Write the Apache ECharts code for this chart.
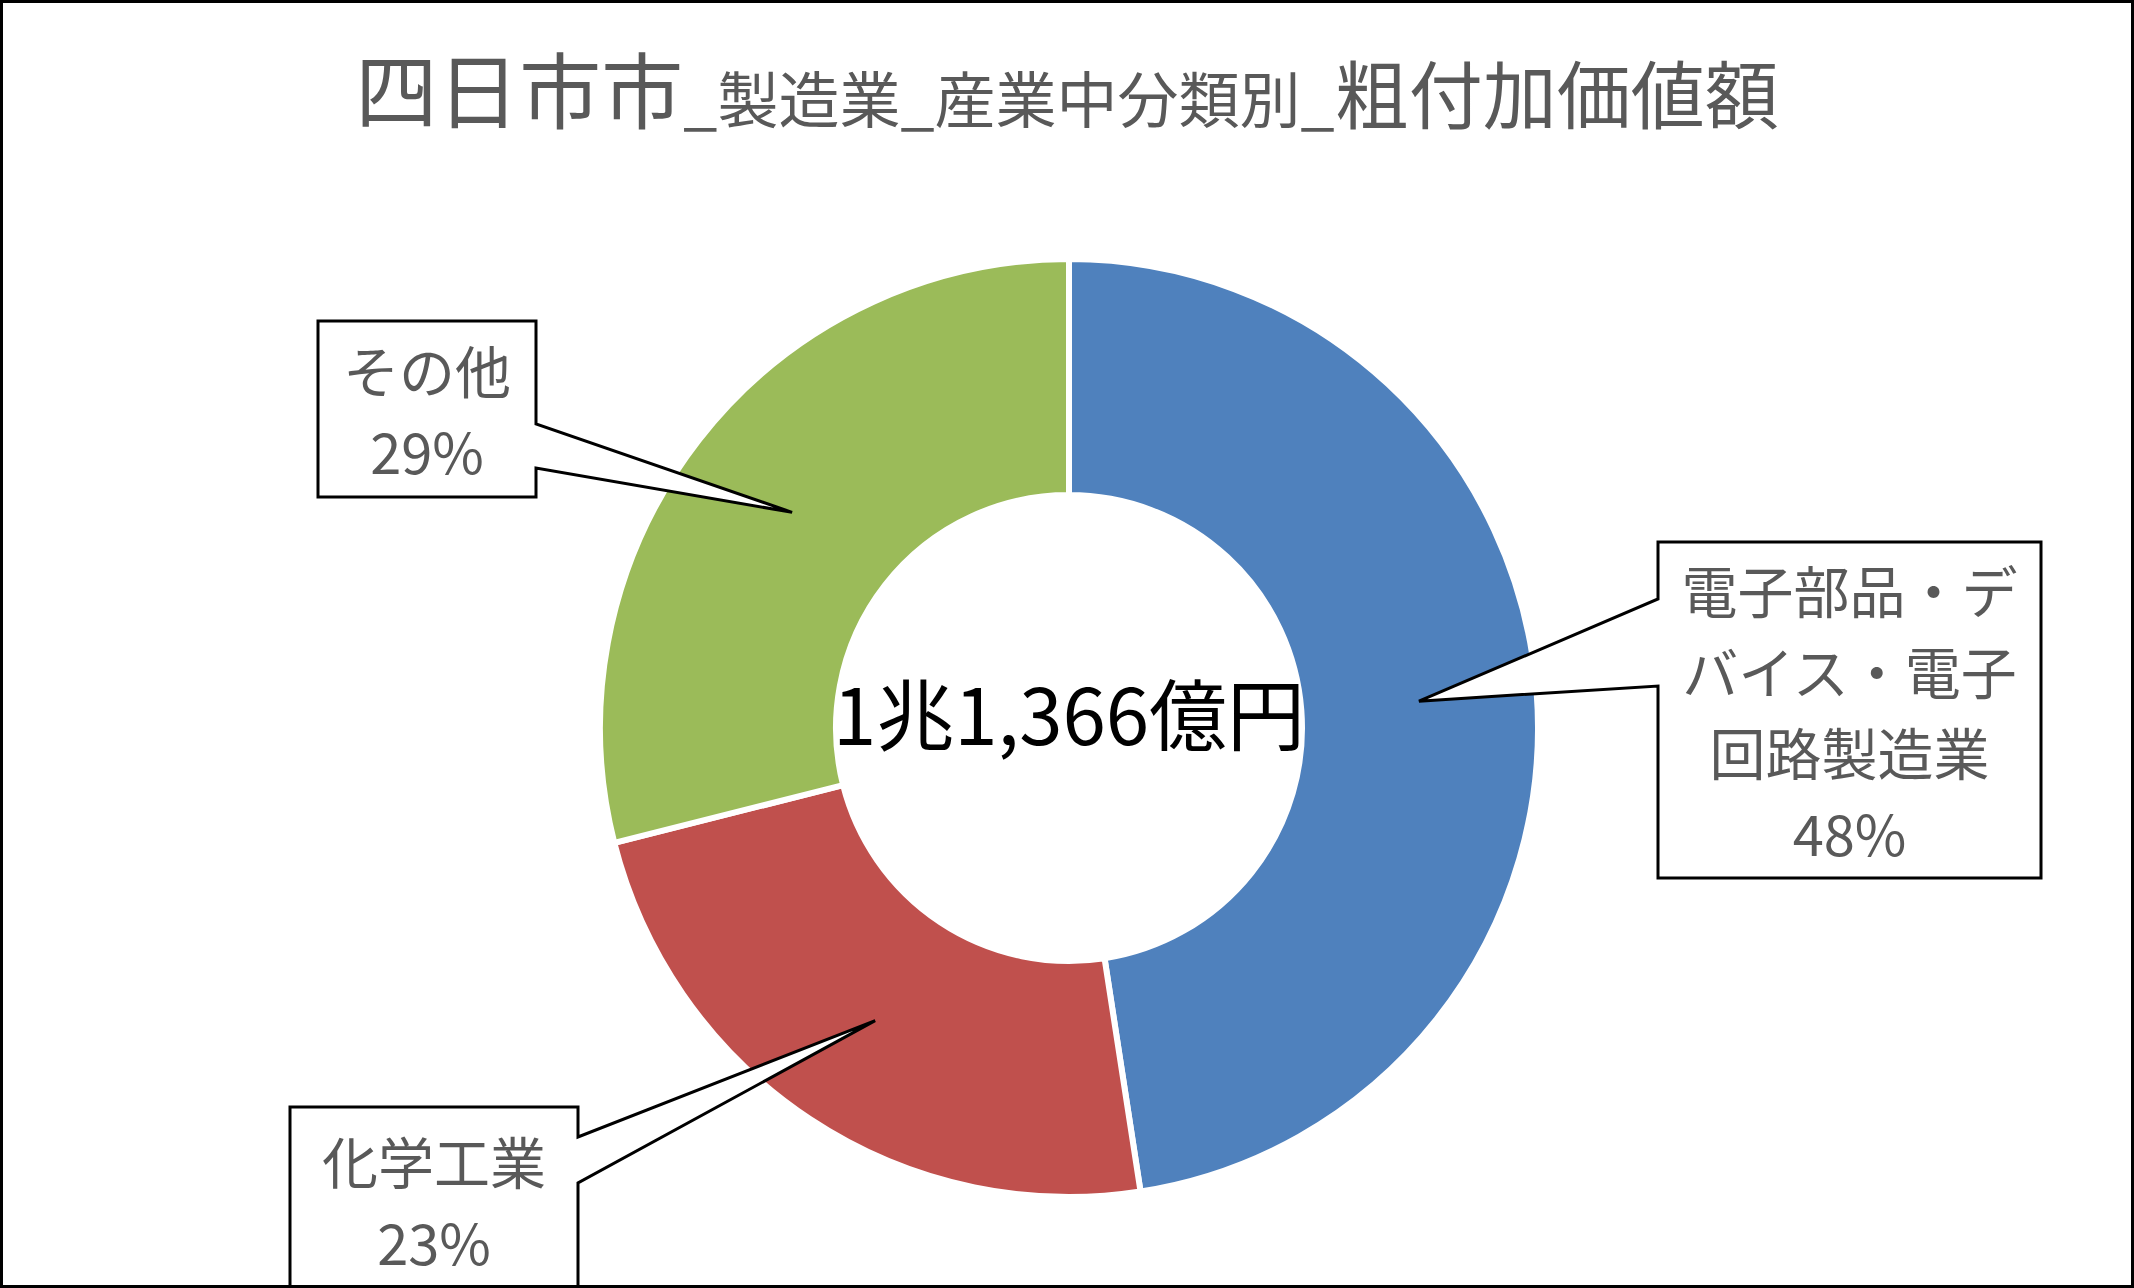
<!DOCTYPE html>
<html><head><meta charset="utf-8">
<script src="https://cdn.jsdelivr.net/npm/echarts@6/dist/echarts.min.js"></script>
<style>
html,body{margin:0;padding:0;background:#fff;}
#wrap{position:relative;width:2134px;height:1288px;overflow:hidden;}
#c{position:absolute;left:0;top:0;width:2134px;height:1288px;}
#frame{position:absolute;left:0;top:0;width:2134px;height:1288px;box-sizing:border-box;border:3px solid #000;pointer-events:none;}
</style>
</head><body>
<div id="wrap"><div id="c"></div><div id="frame"></div></div>
<script>
// ---- data ----
const titleMain = '四日市市';
const titleMid = '_製造業_産業中分類別_';
const titleEnd = '粗付加価値額';
const categories = ['電子部品・デバイス・電子回路製造業', '化学工業', 'その他'];
const labelLines = [['電子部品・デ', 'バイス・電子', '回路製造業'], ['化学工業'], ['その他']];
const values = [5406, 2671, 3289]; // 億円 (sum 1兆1,366億円)
const centerText = '1兆1,366億円';
const colors = ['#4F81BD', '#C0504D', '#9BBB59'];

const FONT = '"Noto Sans CJK JP", "Noto Sans", sans-serif';
const chart = echarts.init(document.getElementById('c'), null, {renderer: 'svg', width: 2134, height: 1288});

chart.setOption({
  backgroundColor: '#ffffff',
  animation: false,
  title: {
    text: '{a|' + titleMain + '}{b|' + titleMid + '}{c|' + titleEnd + '}',
    left: 'center',
    top: 28,
    textStyle: {
      rich: {
        a: {fontSize: 82, fontWeight: 'normal', color: '#595959', fontFamily: FONT, lineHeight: 94, verticalAlign: 'bottom'},
        b: {fontSize: 61, fontWeight: 'normal', color: '#595959', fontFamily: FONT, lineHeight: 94, verticalAlign: 'bottom'},
        c: {fontSize: 74, fontWeight: 'normal', color: '#595959', fontFamily: FONT, lineHeight: 94, verticalAlign: 'bottom'}
      }
    }
  },
  series: [{
    type: 'pie',
    center: [1069, 728],
    radius: [233, 469],
    startAngle: 90,
    clockwise: true,
    percentPrecision: 0,
    avoidLabelOverlap: false,
    label: {show: false},
    labelLine: {show: false},
    itemStyle: {borderColor: '#ffffff', borderWidth: 6},
    data: categories.map((n, i) => ({name: n, value: values[i], itemStyle: {color: colors[i]}}))
  }]
});

// callout boxes (layout only)
const boxes = [
  {x: 1658, y: 542, w: 383, h: 336, side: 'left', b1: 599, b2: 686},
  {x: 290, y: 1107, w: 288, h: 186, side: 'right', b1: 1137, b2: 1183},
  {x: 318, y: 321, w: 218, h: 176, side: 'right', b1: 424, b2: 468}
];

const graphics = [];
const seriesModel = chart.getModel().getSeriesByIndex(0);
const data = seriesModel.getData();
categories.forEach((name, i) => {
  const lay = data.getItemLayout(i);
  const mid = (lay.startAngle + lay.endAngle) / 2;
  const rm = (lay.r0 + lay.r) / 2;
  const tx = lay.cx + Math.cos(mid) * rm;
  const ty = lay.cy + Math.sin(mid) * rm;
  const b = boxes[i];
  const L = b.x, R = b.x + b.w, T = b.y, B = b.y + b.h;
  let pts;
  if (b.side === 'right') {
    pts = [[L, T], [R, T], [R, b.b1], [tx, ty], [R, b.b2], [R, B], [L, B]];
  } else {
    pts = [[L, T], [R, T], [R, B], [L, B], [L, b.b2], [tx, ty], [L, b.b1]];
  }
  graphics.push({
    type: 'polygon', z: 100,
    shape: {points: pts},
    style: {fill: '#ffffff', stroke: '#000000', lineWidth: 3, lineJoin: 'miter'}
  });
  const pct = Math.round(seriesModel.getDataParams(i).percent);
  graphics.push({
    type: 'text', z: 101,
    x: (L + R) / 2, y: (T + B) / 2,
    style: {
      text: labelLines[i].join('\n') + '\n' + pct + '%',
      align: 'center', verticalAlign: 'middle',
      fontSize: 56, lineHeight: 81, fontFamily: FONT, fill: '#595959'
    }
  });
});
const lay0 = data.getItemLayout(0);
graphics.push({
  type: 'text', z: 101,
  x: lay0.cx, y: lay0.cy - 17,
  style: {text: centerText, align: 'center', verticalAlign: 'middle', fontSize: 78, fontFamily: FONT, fill: '#000000'}
});
chart.setOption({graphic: graphics});
</script>
</body></html>
